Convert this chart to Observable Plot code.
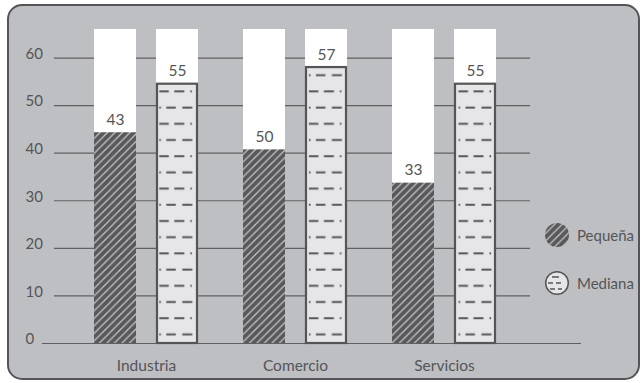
<!DOCTYPE html>
<html>
<head>
<meta charset="utf-8">
<script src="https://cdn.jsdelivr.net/npm/d3@7"></script>
<script src="https://cdn.jsdelivr.net/npm/@observablehq/plot@0.6"></script>
<style>
  html, body { margin: 0; padding: 0; background: #ffffff; }
  #wrap { position: relative; width: 643px; height: 383px; overflow: hidden; font-family: Lato, "Open Sans", sans-serif; }
  #frame { position: absolute; left: 7px; top: 4px; width: 633px; height: 376px; box-sizing: border-box;
           border: 2.5px solid #555557; border-radius: 15px; background: #bebfc2; }
  #chart { position: absolute; left: 0; top: 0; }
  #legend { position: absolute; left: 543px; top: 221px; overflow: visible; }
</style>
</head>
<body>
<div id="wrap">
  <div id="frame"></div>
  <div id="chart"></div>
  <svg id="legend" width="100" height="80"></svg>
</div>
<script>
// ---- data ----
const categories = ["Industria", "Comercio", "Servicios"];
const seriesNames = ["Pequeña", "Mediana"];
const pequenaBar = [44.3, 40.7, 33.7];      // bar heights as drawn
const pequenaLabel = ["43", "50", "33"];    // printed labels
const medianaBar = [54.5, 58.0, 54.5];
const medianaLabel = ["55", "57", "55"];
const yTicks = [0, 10, 20, 30, 40, 50, 60];
const yMax = 66;

const pequenaData = categories.map((c, i) => ({category: c, series: seriesNames[0], value: pequenaBar[i], label: pequenaLabel[i]}));
const medianaData = categories.map((c, i) => ({category: c, series: seriesNames[1], value: medianaBar[i], label: medianaLabel[i]}));

const ink = "#555557";

const chart = Plot.plot({
  width: 643,
  height: 383,
  marginLeft: 54,
  marginRight: 113,
  marginTop: 29,
  marginBottom: 40,
  style: {background: "transparent", fontFamily: "Lato, 'Open Sans', sans-serif", fontSize: "15px", color: ink, overflow: "visible"},
  x: {domain: categories, paddingInner: 0.304, paddingOuter: 0.244, align: 0.534, label: null},
  y: {domain: [0, yMax], label: null},
  marks: [
    Plot.ruleY(yTicks.filter(d => d > 0), {stroke: "#606062", strokeWidth: 1.2}),
    Plot.ruleY([0], {stroke: "#606062", strokeWidth: 1.2, insetLeft: -12, insetRight: -51}),
    Plot.barY(categories, {x: d => d, y: () => yMax, fill: "white", insetRight: 62}),
    Plot.barY(categories, {x: d => d, y: () => yMax, fill: "white", insetLeft: 62}),
    Plot.barY(pequenaData, {x: "category", y: "value", fill: "url(#hatch)", insetRight: 62}),
    Plot.barY(medianaData, {x: "category", y: "value", fill: "url(#dashes)", stroke: ink, strokeWidth: 2.2, insetLeft: 63, insetRight: 1}),
    Plot.text(pequenaData, {x: "category", y: "value", text: "label", dx: -31, dy: -13, fontSize: 15.5, fill: ink}),
    Plot.text(medianaData, {x: "category", y: "value", text: "label", dx: 31, dy: -13, fontSize: 15.5, fill: ink}),
    Plot.axisY(yTicks, {tickSize: 0, tickPadding: 29, textAnchor: "start", dy: -4, fontSize: 15, fill: ink, label: null}),
    Plot.axisX({tickSize: 0, tickPadding: 16, fontSize: 15.5, fill: ink, label: null})
  ]
});

d3.select(chart).insert("defs", ":first-child").html(`
  <pattern id="hatch" patternUnits="userSpaceOnUse" width="7.5" height="7.5">
    <rect width="7.5" height="7.5" fill="#58585a"/>
    <path d="M-1,1 L1,-1 M0,7.5 L7.5,0 M6.5,8.5 L8.5,6.5" stroke="#c4c4c6" stroke-width="1.3"/>
  </pattern>
  <pattern id="dashes" patternUnits="userSpaceOnUse" x="9.7" y="18.5" width="37.4" height="32.4">
    <rect width="37.4" height="32.4" fill="#e6e6e8"/>
    <path d="M0,8 h9.5 M15,8 h10 M31,8 h1.6 M0,24.2 h1.6 M7,24.2 h9.5 M23,24.2 h10" stroke="${ink}" stroke-width="2"/>
  </pattern>
`);

document.getElementById("chart").appendChild(chart);

// ---- legend ----
const lg = d3.select("#legend");
const rows = [
  {name: seriesNames[0], cy: 14},
  {name: seriesNames[1], cy: 62}
];
lg.append("circle").attr("cx", 14).attr("cy", rows[0].cy).attr("r", 12).attr("fill", "url(#hatch)");
lg.append("circle").attr("cx", 14).attr("cy", rows[1].cy).attr("r", 11.3).attr("fill", "#e6e6e8").attr("stroke", ink).attr("stroke-width", 1.5);
lg.append("path")
  .attr("d", `M9,${rows[1].cy - 6} h7 M5,${rows[1].cy} h5 M13,${rows[1].cy} h5 M7,${rows[1].cy + 6} h5 M15,${rows[1].cy + 6} h4`)
  .attr("stroke", ink).attr("stroke-width", 1.3).attr("fill", "none");
lg.selectAll("text.lbl").data(rows).join("text")
  .attr("class", "lbl")
  .attr("x", 34).attr("y", d => d.cy + 5.5)
  .attr("fill", ink)
  .style("font-family", "Lato, 'Open Sans', sans-serif")
  .style("font-size", "15px")
  .text(d => d.name);
</script>
</body>
</html>
